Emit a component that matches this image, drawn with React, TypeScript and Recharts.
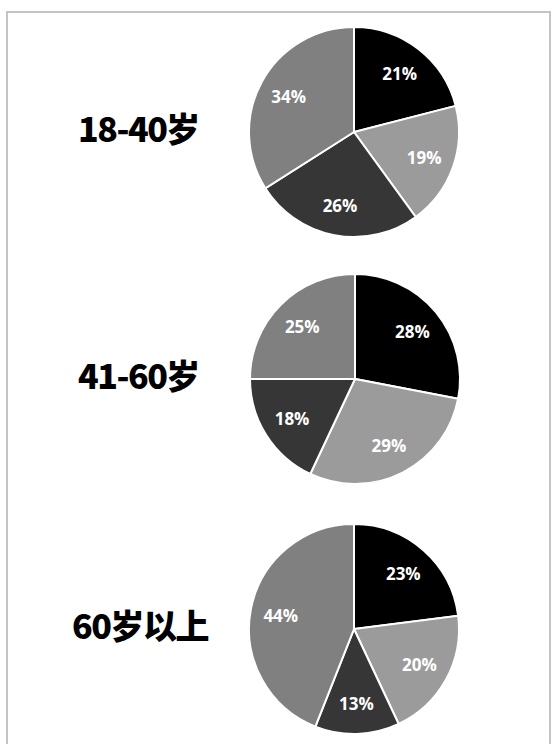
import React from "react";
import { PieChart, Pie, Cell } from "recharts";

// age groups, top to bottom
const groupLabels = ["18-40岁", "41-60岁", "60岁以上"];
// slice order clockwise from 12 o'clock
const sliceNames = ["s1", "s2", "s3", "s4"];
const group1 = [21, 19, 26, 34];
const group2 = [28, 29, 18, 25];
const group3 = [23, 20, 13, 44];
const sliceColors = ["#000000", "#9b9b9b", "#363636", "#808080"];

const groups = [group1, group2, group3];
const centers = [
  { cx: 354, cy: 132 },
  { cx: 355, cy: 379 },
  { cx: 354, cy: 629 },
];
const RADIUS = 105;
const RAD = Math.PI / 180;

const PctLabel = (props: any) => {
  const { cx, cy, midAngle, outerRadius, value } = props;
  const r = outerRadius * 0.71;
  const x = cx + r * Math.cos(-midAngle * RAD);
  const y = cy + r * Math.sin(-midAngle * RAD);
  return (
    <text
      x={x}
      y={y}
      fill="#ffffff"
      fontSize={17}
      fontWeight="bold"
      fontFamily="'Open Sans', 'DejaVu Sans', sans-serif"
      textAnchor="middle"
      dominantBaseline="central"
    >
      {`${value}%`}
    </text>
  );
};

export default function App() {
  return (
    <div style={{ position: "absolute", left: 0, top: 0, width: 552, height: 744, background: "#fff", overflow: "hidden" }}>
      <div
        style={{
          position: "absolute",
          left: 6,
          top: 11,
          width: 541,
          height: 760,
          borderTop: "2px solid #c4c4c4",
          borderLeft: "2px solid #c4c4c4",
          borderRight: "2px solid #c4c4c4",
        }}
      />
      <PieChart
        width={552}
        height={744}
        margin={{ top: 0, right: 0, bottom: 0, left: 0 }}
        style={{ position: "absolute", left: 0, top: 0 }}
      >
        {groups.map((vals, gi) => (
          <Pie
            key={gi}
            data={vals.map((v, i) => ({ name: sliceNames[i], value: v }))}
            dataKey="value"
            cx={centers[gi].cx}
            cy={centers[gi].cy}
            outerRadius={RADIUS}
            startAngle={90}
            endAngle={-270}
            stroke="#ffffff"
            strokeWidth={2}
            label={PctLabel}
            labelLine={false}
            isAnimationActive={false}
          >
            {vals.map((_, i) => (
              <Cell key={i} fill={sliceColors[i]} />
            ))}
          </Pie>
        ))}
      </PieChart>
      {groupLabels.map((t, gi) => (
        <div
          key={t}
          style={{
            position: "absolute",
            left: gi === 2 ? 72 : 78,
            top: centers[gi].cy - 4 - 24,
            height: 48,
            lineHeight: "48px",
            fontSize: 34,
            fontWeight: 900,
            letterSpacing: -1.5,
            fontFamily: "'Noto Sans CJK SC', 'Noto Sans', sans-serif",
            color: "#000",
            whiteSpace: "nowrap",
          }}
        >
          {t}
        </div>
      ))}
    </div>
  );
}
